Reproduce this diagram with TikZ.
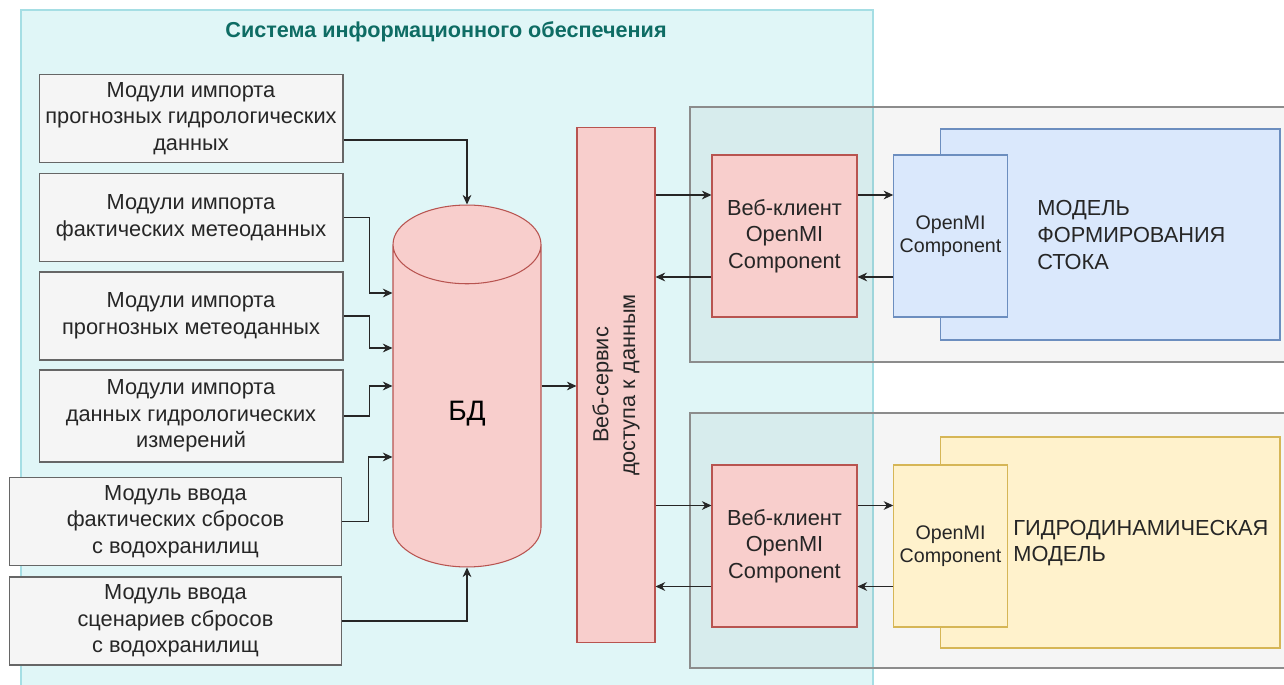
\documentclass[tikz,border=0pt]{standalone}
\usepackage{fontspec}
\setmainfont{Liberation Sans}
\usetikzlibrary{shapes.geometric, arrows.meta}

\definecolor{infobg}{RGB}{224,246,247}
\definecolor{infoline}{RGB}{165,222,228}
\definecolor{infotitle}{RGB}{14,108,100}
\definecolor{pinkfill}{HTML}{F8CECC}
\definecolor{pinkline}{HTML}{B85450}
\definecolor{bluefill}{HTML}{DAE8FC}
\definecolor{blueline}{HTML}{6C8EBF}
\definecolor{yelfill}{HTML}{FFF2CC}
\definecolor{yelline}{HTML}{D6B656}

\tikzset{
    boxfont/.style={font=\fontsize{12.4}{15.2}\selectfont, text=black!85},
    modbox/.style={boxfont, draw=black!60, fill=black!4, line width=0.6pt,
        minimum width=6.08cm, minimum height=1.76cm, align=center},
    pinkbox/.style={boxfont, draw=pinkline, fill=pinkfill, line width=0.6pt, align=center},
    bluebox/.style={draw=blueline, fill=bluefill, line width=0.6pt, align=center},
    yelbox/.style={draw=yelline, fill=yelfill, line width=0.6pt, align=center},
    omifont/.style={font=\fontsize{11.2}{13}\selectfont, text=black!85},
    holder/.style={draw=black!45, fill=black, fill opacity=0.04, line width=0.6pt},
    arr/.style={-{Stealth[length=5.5pt,width=5pt,inset=1.8pt]}, line width=0.6pt, black!85},
}

\begin{document}
\begin{tikzpicture}[x=0.02cm, y=-0.02cm]
\useasboundingbox (0,0) rectangle (1284,685);

% information system area
\draw[infoline, fill=infobg, line width=0.6pt] (21,10) rectangle (873,700);
\node[font=\bfseries\fontsize{12.3}{15}\selectfont, text=infotitle] (title) at (446,32)
    {Система информационного обеспечения};

% model containers
\draw[holder] (690,107) rectangle (1295,362);
\draw[holder] (690,413) rectangle (1295,668);

% import modules
\node[modbox] (m1) at (191,118.5) {Модули импорта\\прогнозных гидрологических\\данных};
\node[modbox] (m2) at (191,217.5) {Модули импорта\\фактических метеоданных};
\node[modbox] (m3) at (191,316) {Модули импорта\\прогнозных метеоданных};
\node[modbox, minimum height=1.84cm] (m4) at (191,416) {Модули импорта\\данных гидрологических\\измерений};
\node[modbox, minimum width=6.66cm] (m5) at (175.5,521.5) {Модуль ввода\\фактических сбросов\\с водохранилищ};
\node[modbox, minimum width=6.66cm] (m6) at (175.5,621) {Модуль ввода\\сценариев сбросов\\с водохранилищ};

% database
\node[cylinder, shape border rotate=90, aspect=1.6, draw=pinkline, fill=pinkfill,
    line width=0.6pt, minimum width=2.96cm, minimum height=7.24cm,
    font=\fontsize{16}{19}\selectfont, anchor=shape center] (bd) at (467,386) {БД};
\coordinate (bdw) at (bd.shape center -| bd.west);
\coordinate (bde) at (bd.shape center -| bd.east);

% web service
\node[pinkbox, minimum width=1.56cm, minimum height=10.32cm] (ws) at (616,385) {};
\node[boxfont, rotate=90, align=center] (wstxt) at (ws.center) {Веб-сервис\\доступа к данным};

% web clients
\node[pinkbox, minimum width=2.9cm, minimum height=3.24cm] (wc1) at (784.5,236) {Веб-клиент\\OpenMI\\Component};
\node[pinkbox, minimum width=2.9cm, minimum height=3.24cm] (wc2) at (784.5,546) {Веб-клиент\\OpenMI\\Component};

% models
\node[bluebox, minimum width=6.8cm, minimum height=4.22cm] (mod1) at (1110,234.5) {};
\node[bluebox, omifont, minimum width=2.22cm, minimum height=3.24cm] (omi1) at (950.5,236) {OpenMI\\Component};
\node[boxfont, align=left, anchor=west, inner sep=0pt] (mod1txt) at (1037,235) {МОДЕЛЬ\\ФОРМИРОВАНИЯ\\СТОКА};

\node[yelbox, minimum width=6.8cm, minimum height=4.22cm] (mod2) at (1110,542.5) {};
\node[yelbox, omifont, minimum width=2.22cm, minimum height=3.24cm] (omi2) at (950.5,546) {OpenMI\\Component};
\node[boxfont, align=left, anchor=west, inner sep=0pt] (mod2txt) at (1013,543) {ГИДРОДИНАМИЧЕСКАЯ\\МОДЕЛЬ};

% modules -> database
\draw[arr] ([yshift=-0.43cm]m1.east) -| (bd.north);
\draw[arr] (m2.east) -- ++(26,0) |- ([yshift=1.86cm]bdw);
\draw[arr] (m3.east) -- ++(26,0) |- ([yshift=0.76cm]bdw);
\draw[arr] (m4.east) -- ++(26,0) |- (bdw);
\draw[arr] (m5.east) -- ++(26,0) |- ([yshift=-1.42cm]bdw);
\draw[arr] (m6.east) -| (bd.south);
\draw[arr] (bde) -- (bde -| ws.west);

% web service <-> clients <-> models
\coordinate (wc1a) at ([yshift=0.82cm]wc1.west);
\coordinate (wc1b) at ([yshift=-0.82cm]wc1.west);
\coordinate (wc2a) at ([yshift=0.81cm]wc2.west);
\coordinate (wc2b) at ([yshift=-0.81cm]wc2.west);

\draw[arr] (wc1a -| ws.east) -- (wc1a);
\draw[arr] (wc1b) -- (wc1b -| ws.east);
\draw[arr] ([yshift=0.82cm]wc1.east) -- ([yshift=0.82cm]omi1.west);
\draw[arr] ([yshift=-0.82cm]omi1.west) -- ([yshift=-0.82cm]wc1.east);

\draw[arr] (wc2a -| ws.east) -- (wc2a);
\draw[arr] (wc2b) -- (wc2b -| ws.east);
\draw[arr] ([yshift=0.81cm]wc2.east) -- ([yshift=0.81cm]omi2.west);
\draw[arr] ([yshift=-0.81cm]omi2.west) -- ([yshift=-0.81cm]wc2.east);
\end{tikzpicture}
\end{document}
